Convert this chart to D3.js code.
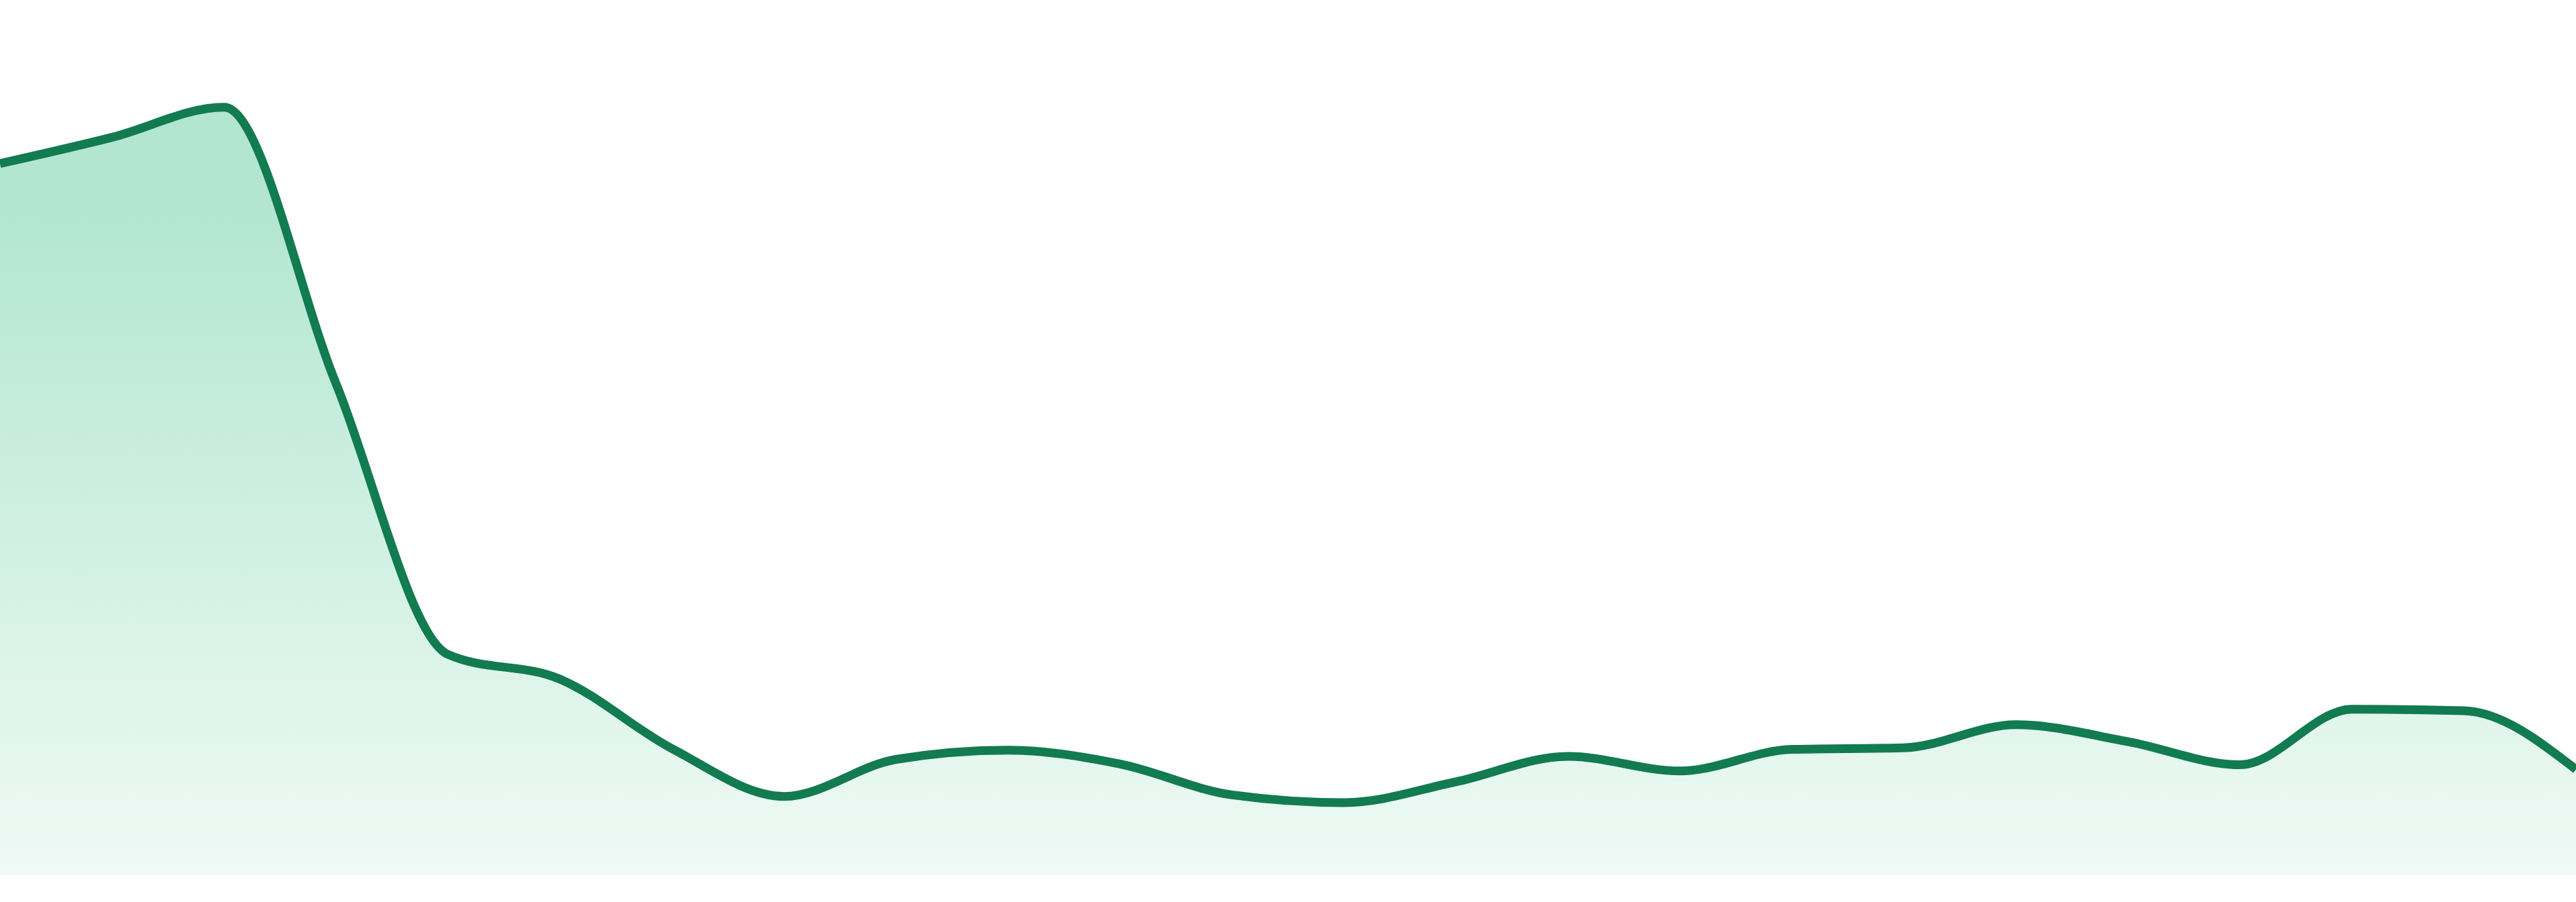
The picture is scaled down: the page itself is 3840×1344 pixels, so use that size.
<!DOCTYPE html>
<html>
<head>
<meta charset="utf-8">
<script src="https://cdn.jsdelivr.net/npm/d3@7"></script>
<style>
  html, body { margin: 0; padding: 0; background: #ffffff; }
  svg { display: block; }
</style>
</head>
<body>
<div id="chart"></div>
<script>
// Chart values (24 evenly spaced samples)
var steps = d3.range(24);
var values = [92.2, 95.6, 99.5, 63.7, 28.6, 25.4, 16.4, 10.2, 15.0, 16.2, 14.4, 10.4,
              9.4, 12.1, 15.4, 13.5, 16.3, 16.5, 19.5, 17.3, 14.3, 21.5, 21.3, 13.7];

var svgWidth = 3840;
var svgHeight = 1344;

// plot area: full width, small margin at the bottom
var margin = { top: 154, right: 0, bottom: 40, left: 0 };
var chartWidth = svgWidth - margin.left - margin.right;
var chartHeight = svgHeight - margin.top - margin.bottom;

var data = steps.map(function(s, i) { return { step: s, value: values[i] }; });

var svg = d3.select("#chart")
  .append("svg")
  .attr("width", svgWidth)
  .attr("height", svgHeight);

// vertical fade for the area
var grad = svg.append("defs")
  .append("linearGradient")
  .attr("id", "areaFade")
  .attr("gradientUnits", "userSpaceOnUse")
  .attr("x1", 0).attr("y1", margin.top)
  .attr("x2", 0).attr("y2", margin.top + chartHeight);
grad.append("stop").attr("offset", "0%").attr("stop-color", "#b2e6d1");
grad.append("stop").attr("offset", "100%").attr("stop-color", "#f9fdfb");

var chartGroup = svg.append("g")
  .attr("transform", `translate(${margin.left}, ${margin.top})`);

var xScale = d3.scaleLinear()
  .domain([0, steps.length - 1])
  .range([0, chartWidth]);

var yScale = d3.scaleLinear()
  .domain([0, 100])
  .range([chartHeight, 0]);

var area = d3.area()
  .curve(d3.curveMonotoneX)
  .x(d => xScale(d.step))
  .y0(chartHeight)
  .y1(d => yScale(d.value));

var line = d3.line()
  .curve(d3.curveMonotoneX)
  .x(d => xScale(d.step))
  .y(d => yScale(d.value));

// gradient area under the curve
chartGroup.append("path")
  .attr("d", area(data))
  .attr("fill", "url(#areaFade)");

// the line on top
chartGroup.append("path")
  .attr("d", line(data))
  .attr("fill", "none")
  .attr("stroke", "#127b50")
  .attr("stroke-width", 13)
  .attr("stroke-linejoin", "round");
</script>
</body>
</html>
